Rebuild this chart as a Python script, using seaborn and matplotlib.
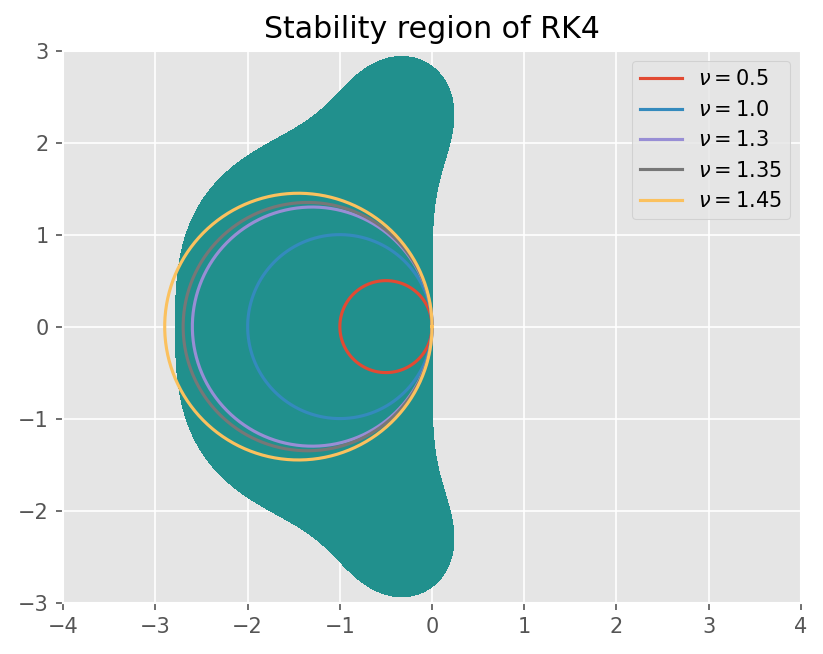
import numpy as np
import pandas as pd
import matplotlib
matplotlib.use("Agg")
import matplotlib.pyplot as plt
import seaborn as sns

# Data
nu_values = [0.5, 1.0, 1.3, 1.35, 1.45]
nu_labels = ["0.5", "1.0", "1.3", "1.35", "1.45"]
rk4_coeffs = [1, 1, 1 / 2, 1 / 6, 1 / 24]  # R(z) = sum c_k z^k
line_colors = ["#E24A33", "#348ABD", "#988ED5", "#777777", "#FBC15E"]
region_color = "#21908d"

plt.style.use("ggplot")

fig = plt.figure(figsize=(823 / 150, 654 / 150), dpi=150)
ax = fig.add_axes([0.0769, 0.0787, 0.973 - 0.0769, 0.9225 - 0.0787])

# stability region |R(z)| <= 1
xs = np.linspace(-4, 4, 1201)
ys = np.linspace(-3, 3, 901)
X, Y = np.meshgrid(xs, ys)
Z = X + 1j * Y
R = np.zeros_like(Z)
for k, c in enumerate(rk4_coeffs):
    R = R + c * Z ** k
ax.contourf(X, Y, np.abs(R), levels=[0, 1], colors=[region_color])

# circles centred at -nu with radius nu
theta = np.linspace(0, 2 * np.pi, 400)
frames = []
for nu, lab in zip(nu_values, nu_labels):
    frames.append(pd.DataFrame({
        "x": -nu + nu * np.cos(theta),
        "y": nu * np.sin(theta),
        "label": rf"$\nu = {lab}$",
    }))
df = pd.concat(frames, ignore_index=True)
sns.lineplot(data=df, x="x", y="y", hue="label", sort=False,
             palette=line_colors, ax=ax, estimator=None, linewidth=1.5)

ax.set_xlim(-4, 4)
ax.set_ylim(-3, 3)
ax.set_xlabel("")
ax.set_ylabel("")
ax.set_title("Stability region of RK4", fontsize=14.4, color="black")
ax.tick_params(labelsize=10)
leg = ax.legend(loc="upper right", fontsize=10)
leg.set_title(None)

fig.savefig("out.png", dpi=150)
